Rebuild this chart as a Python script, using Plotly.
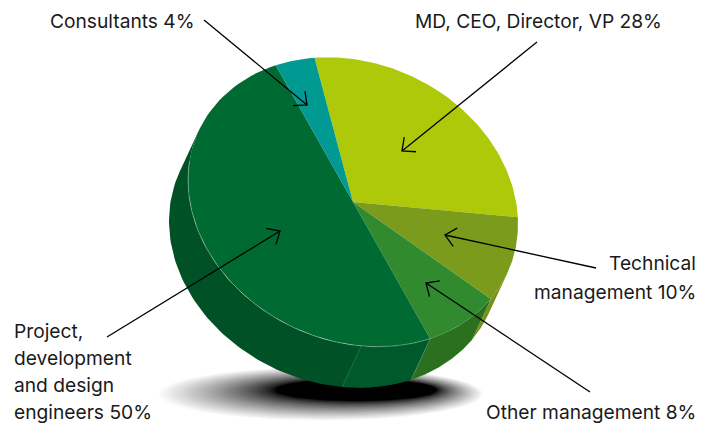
import numpy as np
import plotly.graph_objects as go

# ---- data ----
categories = ["MD, CEO, Director, VP", "Technical management", "Other management",
              "Project, development and design engineers", "Consultants"]
values = [28, 10, 8, 50, 4]
top_colors = ["#adc90a", "#7a9b1b", "#318a2e", "#006a33", "#009a93"]
wall_colors = ["#8fa608", "#76901a", "#2a701f", "#005226", "#007a74"]
label_lines = [
    ["MD, CEO, Director, VP 28%"],
    ["Technical", "management 10%"],
    ["Other management 8%"],
    ["Project,", "development", "and design", "engineers 50%"],
    ["Consultants 4%"],
]
label_anchor = ["left", "right", "right", "left", "left"]
label_x = [415, 696, 696, 14, 50]
label_y = [21, 263, 412, 331, 21]
arrow_start = [(537, 42), (596, 268), (590, 392), (107, 337), (204, 20)]
arrow_tip = [(402, 151), (445, 235), (426, 283), (280, 231), (307, 105)]

# ---- geometry of the tilted pie ----
CX, CY, A, B, K = 353, 202, 165, 143, 22
DX, DY = -19, 41
START = -13.5
SEAM_FRACTION = 0.139
FONT = "Inter"
FS = 19.2
# front-facing part of the rim, between the two points where the rim runs parallel to the extrusion
FRONT = (110.7, 290.7)


def rim(theta_deg):
    t = np.radians(np.asarray(theta_deg, float) - 90)
    return CX + A * np.cos(t), CY + B * np.sin(t) + K * np.cos(t)


def poly(fig, x, y, color):
    fig.add_trace(go.Scatter(x=list(x), y=list(y), mode="lines", fill="toself",
                             fillcolor=color, line=dict(width=0, color=color),
                             hoverinfo="skip", showlegend=False))


def stroke(fig, x, y, color, width):
    fig.add_trace(go.Scatter(x=list(x), y=list(y), mode="lines",
                             line=dict(color=color, width=width),
                             hoverinfo="skip", showlegend=False))


fig = go.Figure()

# shadow: soft outer ellipse blending into the black core
phi = np.linspace(0, 2 * np.pi, 120)
N = 48
for i in range(N + 1):
    f = i / N
    cx, cy = 320 + (356 - 320) * f, 394 + (390 - 394) * f
    rx, ry = 164 + (81 - 164) * f, 27 + (11 - 27) * f
    g = int(round(255 * (1 - f) ** 0.7))
    poly(fig, cx + rx * np.cos(phi), cy + ry * np.sin(phi), f"rgb({g},{g},{g})")

# wedges
edges = START + np.cumsum([0] + values) * 3.6

# side walls (front-facing part of each wedge only)
for i in range(len(values)):
    lo, hi = max(edges[i], FRONT[0]), min(edges[i + 1], FRONT[1])
    if hi <= lo:
        continue
    x, y = rim(np.linspace(lo, hi, 90))
    poly(fig, np.r_[x, (x + DX)[::-1]], np.r_[y, (y + DY)[::-1]], wall_colors[i])

# lighter stretch of the big wedge's wall, up to the seam
seam = edges[3] + SEAM_FRACTION * (edges[4] - edges[3])
x, y = rim(np.linspace(edges[3], seam, 30))
poly(fig, np.r_[x, (x + DX)[::-1]], np.r_[y, (y + DY)[::-1]], "#00592b")
sx, sy = rim([seam])
stroke(fig, [sx[0], sx[0] + DX], [sy[0], sy[0] + DY], "#2f7a50", 0.7)
ex, ey = rim([edges[3]])
stroke(fig, [ex[0], ex[0] + DX], [ey[0], ey[0] + DY], "#5f9a70", 0.7)

# top faces
for i in range(len(values)):
    x, y = rim(np.linspace(edges[i], edges[i + 1], 90))
    poly(fig, np.r_[CX, x, CX], np.r_[CY, y, CY], top_colors[i])

# pale rim line on the big wedge
x, y = rim(np.linspace(edges[3], edges[3] + 125, 90))
stroke(fig, x, y, "rgba(225,240,225,0.5)", 0.7)

# arrows with open heads
for (x0, y0), (x1, y1) in zip(arrow_start, arrow_tip):
    ang = np.arctan2(y0 - y1, x0 - x1)
    stroke(fig, [x0, x1], [y0, y1], "#000000", 1.3)
    hx, hy = [], []
    for s in (-1, 1):
        hx += [x1 + 14 * np.cos(ang + s * np.radians(42))]
        hy += [y1 + 14 * np.sin(ang + s * np.radians(42))]
    stroke(fig, [hx[0], x1, hx[1]], [hy[0], y1, hy[1]], "#000000", 1.3)

# labels
annotations = []
for lines, anchor, lx, ly in zip(label_lines, label_anchor, label_x, label_y):
    for j, line in enumerate(lines):
        step = 28.5 if len(lines) == 2 else 27
        annotations.append(dict(x=lx, y=ly + j * step, text=line, xref="x", yref="y",
                                xanchor=anchor, yanchor="middle", showarrow=False,
                                borderpad=0, borderwidth=0,
                                font=dict(family=FONT, size=FS, color="#1a1a1a")))

fig.update_layout(
    width=707, height=424, margin=dict(l=0, r=0, t=0, b=0),
    paper_bgcolor="white", plot_bgcolor="white", showlegend=False,
    xaxis=dict(range=[0, 707], visible=False, fixedrange=True),
    yaxis=dict(range=[424, 0], visible=False, fixedrange=True),
    annotations=annotations,
)
fig.write_html("out.html", config=dict(displayModeBar=False),
               post_script="document.body.style.margin='0';document.body.style.overflow='hidden';")
